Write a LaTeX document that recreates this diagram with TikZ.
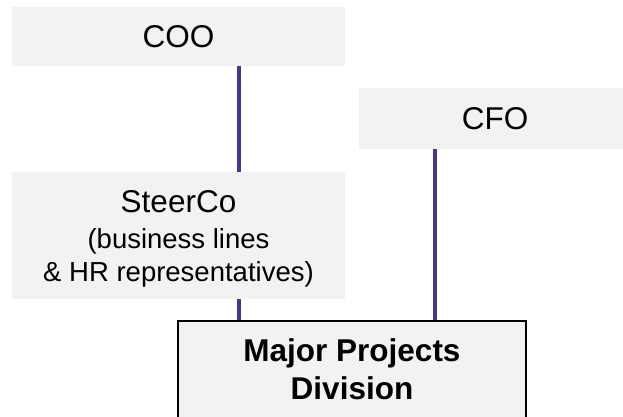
\documentclass[tikz,border=0pt]{standalone}
\usepackage{fontspec}
\setmainfont{Liberation Sans}
\usetikzlibrary{backgrounds}
\definecolor{boxgray}{HTML}{F2F2F2}
\definecolor{linkblue}{HTML}{403891}
\tikzset{
  box/.style={fill=boxgray, draw=none, inner sep=0pt, align=center,
    font=\fontsize{31.5}{38}\selectfont},
  subbox/.style={box, font=\fontsize{27.5}{33}\selectfont},
  mainbox/.style={box, draw=black, line width=1.5pt,
    font=\bfseries\fontsize{31.5}{38}\selectfont},
  link/.style={draw=linkblue, line width=3.5pt},
}
\begin{document}
\begin{tikzpicture}[x=1pt,y=-1pt]
\useasboundingbox (0,0) rectangle (623,416);
\node[box, minimum width=333pt, minimum height=59pt] (coo) at (178.5,36.5) {COO};
\node[box, minimum width=272pt, minimum height=61pt] (cfo) at (495,118.5) {CFO};
\node[subbox, minimum width=333pt, minimum height=127pt] (steer) at (178.5,235.5)
  {\rule{0pt}{29pt}{\fontsize{31.5}{38}\selectfont SteerCo}\\[3pt]
   (business lines\\
   \& HR representatives)};
\node[mainbox, minimum width=348pt, minimum height=97pt] (mpd) at (352,369.5)
  {Major Projects\\Division};
\coordinate (xl) at (239,0);
\coordinate (xr) at (435,0);
\begin{pgfonlayer}{background}
\draw[link] (coo.south -| xl) -- (steer.north -| xl);
\draw[link] (steer.south -| xl) -- (mpd.north -| xl);
\draw[link] (cfo.south -| xr) -- (mpd.north -| xr);
\end{pgfonlayer}
\end{tikzpicture}
\end{document}
